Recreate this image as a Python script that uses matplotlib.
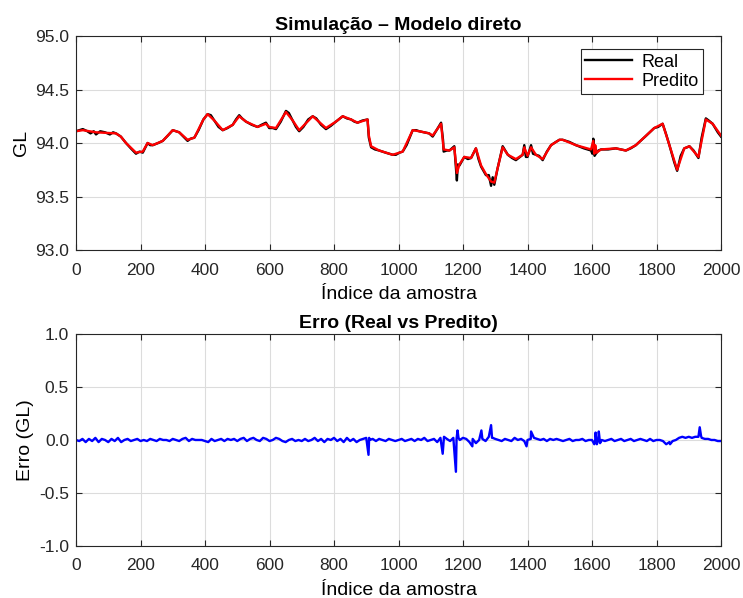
import numpy as np
import matplotlib
matplotlib.use("Agg")
import matplotlib.pyplot as plt

# valores (índice da amostra, GL)
real_idx = [0, 10, 21, 35, 45, 55, 62, 75, 90, 105, 115, 124, 139, 155, 170, 186, 197, 207, 222, 230,
            238, 255, 269, 285, 300, 310, 320, 333, 346, 355, 367, 380, 395, 408, 418, 429, 442, 455, 470, 486,
            496, 506, 515, 527, 545, 563, 575, 589, 599, 610, 620, 635, 651, 660, 672, 682, 692, 705, 720, 734,
            745, 760, 775, 790, 806, 827, 840, 853, 863, 873, 888, 904, 908, 915, 927, 940, 960, 982, 992, 1003,
            1013, 1025, 1044, 1055, 1064, 1080, 1095, 1106, 1120, 1132, 1138, 1140, 1150, 1158, 1173, 1176, 1181, 1184, 1189, 1204,
            1215, 1225, 1240, 1248, 1256, 1271, 1280, 1287, 1292, 1297, 1307, 1323, 1339, 1352, 1364, 1385, 1390, 1395, 1400, 1411,
            1417, 1426, 1436, 1447, 1460, 1473, 1488, 1499, 1509, 1530, 1550, 1575, 1597, 1601, 1604, 1608, 1612, 1620, 1628, 1650,
            1674, 1690, 1705, 1720, 1736, 1765, 1793, 1805, 1819, 1830, 1840, 1855, 1864, 1875, 1886, 1895, 1902, 1915, 1930, 1940,
            1953, 1962, 1974, 1990, 2000]
real_val = [94.11, 94.12, 94.13, 94.11, 94.09, 94.11, 94.08, 94.11, 94.10, 94.08, 94.10, 94.09, 94.06, 94.00, 93.95, 93.90, 93.92, 93.91, 94.00, 93.98,
            93.98, 94.00, 94.02, 94.07, 94.12, 94.11, 94.10, 94.06, 94.02, 94.04, 94.05, 94.12, 94.22, 94.27, 94.26, 94.21, 94.15, 94.12, 94.14, 94.17,
            94.22, 94.26, 94.23, 94.20, 94.17, 94.15, 94.17, 94.19, 94.14, 94.14, 94.13, 94.20, 94.30, 94.28, 94.21, 94.15, 94.11, 94.15, 94.22, 94.25,
            94.23, 94.17, 94.13, 94.16, 94.20, 94.25, 94.23, 94.22, 94.20, 94.19, 94.21, 94.22, 94.05, 93.96, 93.94, 93.93, 93.91, 93.89, 93.89, 93.91,
            93.92, 93.98, 94.12, 94.12, 94.11, 94.10, 94.09, 94.06, 94.13, 94.19, 94.03, 93.92, 93.93, 93.93, 93.97, 93.85, 93.65, 93.80, 93.79, 93.87,
            93.85, 93.86, 93.95, 93.85, 93.78, 93.70, 93.70, 93.60, 93.68, 93.61, 93.76, 93.97, 93.89, 93.86, 93.84, 93.89, 93.98, 93.87, 93.87, 93.98,
            93.90, 93.89, 93.88, 93.84, 93.92, 93.98, 94.01, 94.03, 94.03, 94.01, 93.98, 93.95, 93.93, 93.90, 94.04, 93.88, 93.90, 93.93, 93.94, 93.94,
            93.95, 93.94, 93.93, 93.95, 93.98, 94.06, 94.14, 94.15, 94.18, 94.08, 93.98, 93.82, 93.74, 93.88, 93.95, 93.96, 93.97, 93.93, 93.86, 94.05,
            94.23, 94.21, 94.18, 94.10, 94.06]

pred_idx = [0, 21, 62, 124, 139, 155, 186, 207, 222, 238, 269, 300, 320, 346, 367, 395, 408, 429, 455, 486,
            506, 527, 563, 589, 599, 620, 651, 672, 692, 734, 775, 806, 827, 853, 873, 904, 908, 915, 940, 982,
            1003, 1013, 1044, 1064, 1095, 1106, 1132, 1140, 1158, 1173, 1181, 1189, 1204, 1225, 1240, 1256, 1271, 1287, 1297, 1307,
            1323, 1339, 1364, 1385, 1390, 1400, 1411, 1426, 1447, 1473, 1499, 1509, 1550, 1597, 1604, 1607, 1610, 1614, 1628, 1674,
            1705, 1736, 1793, 1819, 1840, 1864, 1886, 1902, 1930, 1953, 1974, 2000]
pred_val = [94.11, 94.12, 94.10, 94.09, 94.06, 94.00, 93.91, 93.92, 94.00, 93.98, 94.02, 94.12, 94.10, 94.03, 94.05, 94.22, 94.27, 94.21, 94.12, 94.17,
            94.25, 94.20, 94.15, 94.18, 94.15, 94.14, 94.29, 94.21, 94.12, 94.25, 94.14, 94.20, 94.25, 94.22, 94.19, 94.22, 94.07, 93.97, 93.93, 93.89,
            93.91, 93.92, 94.12, 94.11, 94.09, 94.07, 94.18, 93.94, 93.93, 93.96, 93.72, 93.80, 93.87, 93.86, 93.95, 93.79, 93.71, 93.64, 93.63, 93.76,
            93.96, 93.89, 93.85, 93.89, 93.96, 93.88, 93.96, 93.89, 93.85, 93.98, 94.03, 94.03, 93.98, 93.94, 94.02, 93.90, 93.98, 93.91, 93.94, 93.95,
            93.93, 93.98, 94.14, 94.18, 93.98, 93.75, 93.95, 93.97, 93.87, 94.22, 94.18, 94.07]

# erro: base a cada 10 amostras + picos
erro_base_idx = list(range(0, 2001, 10))
erro_base_val = [0.00, -0.01, 0.01, -0.02, 0.01, -0.01, 0.02, -0.02, 0.01, 0.00, -0.02,
                 0.01, -0.01, 0.02, -0.02, 0.00, 0.01, -0.01, 0.00, 0.01, -0.01,
                 0.00, -0.01, 0.01, 0.00, -0.01, 0.01, 0.00, 0.00, -0.01, 0.01,
                 0.00, -0.01, 0.01, 0.02, -0.01, 0.01, 0.00, 0.00, 0.00, -0.01,
                 -0.02, 0.01, -0.01, 0.00, 0.01, -0.01, 0.01, 0.00, 0.01, -0.01,
                 0.01, 0.02, -0.01, 0.01, 0.02, 0.00, -0.01, 0.02, 0.01, -0.01,
                 0.00, 0.02, 0.01, -0.01, -0.02, 0.00, 0.01, -0.01, 0.00, -0.01,
                 0.01, -0.01, 0.00, 0.02, -0.01, 0.01, -0.02, 0.01, 0.00, 0.02,
                 -0.01, 0.01, -0.02, 0.02, -0.01, 0.01, -0.02, 0.00, 0.01, 0.02,
                 0.00, 0.01, -0.01, 0.01, 0.00, -0.01, 0.01, 0.00, -0.01, 0.00,
                 0.01, -0.01, 0.00, 0.01, -0.01, 0.01, 0.00, 0.02, -0.01, 0.00,
                 0.01, -0.02, 0.02, 0.00, 0.01, -0.01, 0.02, 0.01, 0.00, 0.02,
                 0.01, -0.02, 0.01, -0.03, 0.00, 0.01, -0.01, 0.03, 0.02, 0.01,
                 0.00, -0.01, 0.01, 0.00, -0.01, 0.02, 0.00, 0.01, -0.01, 0.00,
                 0.01, 0.02, 0.01, 0.00, 0.01, -0.01, 0.01, 0.00, 0.01, 0.00,
                 -0.01, 0.00, 0.01, -0.01, 0.00, 0.00, 0.01, -0.01, 0.00, 0.00,
                 0.00, 0.01, 0.00, -0.01, 0.00, 0.01, -0.01, 0.00, 0.01, -0.01,
                 0.00, 0.01, -0.01, 0.00, 0.01, 0.00, -0.01, 0.01, -0.01, 0.00,
                 0.00, -0.01, -0.04, -0.02, -0.01, 0.00, 0.02, 0.03, 0.02, 0.03,
                 0.02, 0.03, 0.03, 0.02, 0.01, 0.01, 0.00, 0.00, -0.01, -0.01]
erro_pico_idx = [907, 909, 1137, 1141, 1178, 1183, 1186, 1229, 1257, 1287, 1292, 1397, 1411,
                 1607, 1611, 1615, 1621, 1625, 1842, 1934, 1938]
erro_pico_val = [-0.14, 0.02, -0.13, 0.03, -0.30, 0.09, 0.02, -0.06, 0.09, 0.14, 0.02, -0.06, 0.08,
                 -0.04, 0.07, -0.04, 0.08, -0.03, -0.04, 0.12, 0.04]

erro_idx = np.array(erro_base_idx + erro_pico_idx)
erro_val = np.array(erro_base_val + erro_pico_val)
ordem = np.argsort(erro_idx, kind='stable')

plt.rcParams['font.family'] = ['Liberation Sans', 'DejaVu Sans']
cinza = '#262626'

fig = plt.figure(figsize=(7.43, 5.98), dpi=100)
ax1 = fig.add_axes([0.1023, 0.5819, 0.8681, 0.3579])
ax2 = fig.add_axes([0.1023, 0.0870, 0.8681, 0.3545])

ax1.plot(real_idx, real_val, color='black', lw=1.7, label='Real')
ax1.plot(pred_idx, pred_val, color='red', lw=1.7, label='Predito')
ax1.set_ylim(93, 95)
ax1.set_yticks(np.arange(93, 95.01, 0.5))
ax1.set_yticklabels([f"{v:.1f}" for v in np.arange(93, 95.01, 0.5)])
ax1.set_title('Simulação – Modelo direto', fontsize=14, fontweight='bold', pad=4)
ax1.set_ylabel('GL', fontsize=14, labelpad=4)
ax1.set_xlabel('Índice da amostra', fontsize=14, labelpad=6)
leg = ax1.legend(loc='upper right', bbox_to_anchor=(0.972, 0.938), borderaxespad=0,
                 fontsize=13, fancybox=False, framealpha=1, handlelength=2.6,
                 borderpad=0.25, labelspacing=0.1, handletextpad=0.5)
leg.get_frame().set_edgecolor(cinza)
leg.get_frame().set_linewidth(0.8)

ax2.plot(erro_idx[ordem], erro_val[ordem], color='blue', lw=1.7)
ax2.set_ylim(-1, 1)
ax2.set_yticks(np.arange(-1, 1.01, 0.5))
ax2.set_yticklabels([f"{v:.1f}" for v in np.arange(-1, 1.01, 0.5)])
ax2.set_title('Erro (Real vs Predito)', fontsize=14, fontweight='bold', pad=4)
ax2.set_ylabel('Erro (GL)', fontsize=14, labelpad=4)
ax2.set_xlabel('Índice da amostra', fontsize=14, labelpad=6)

for ax in (ax1, ax2):
    ax.set_xlim(0, 2000)
    ax.set_xticks(np.arange(0, 2001, 200))
    ax.grid(True, color='#dcdcdc', lw=0.8)
    ax.set_axisbelow(True)
    ax.tick_params(direction='in', top=True, right=True, labelsize=12.5, colors=cinza, length=4, pad=5)
    ax.tick_params(axis='x', pad=9)
    for s in ax.spines.values():
        s.set_color(cinza)
        s.set_linewidth(0.8)

fig.savefig('out.png', dpi=100)
